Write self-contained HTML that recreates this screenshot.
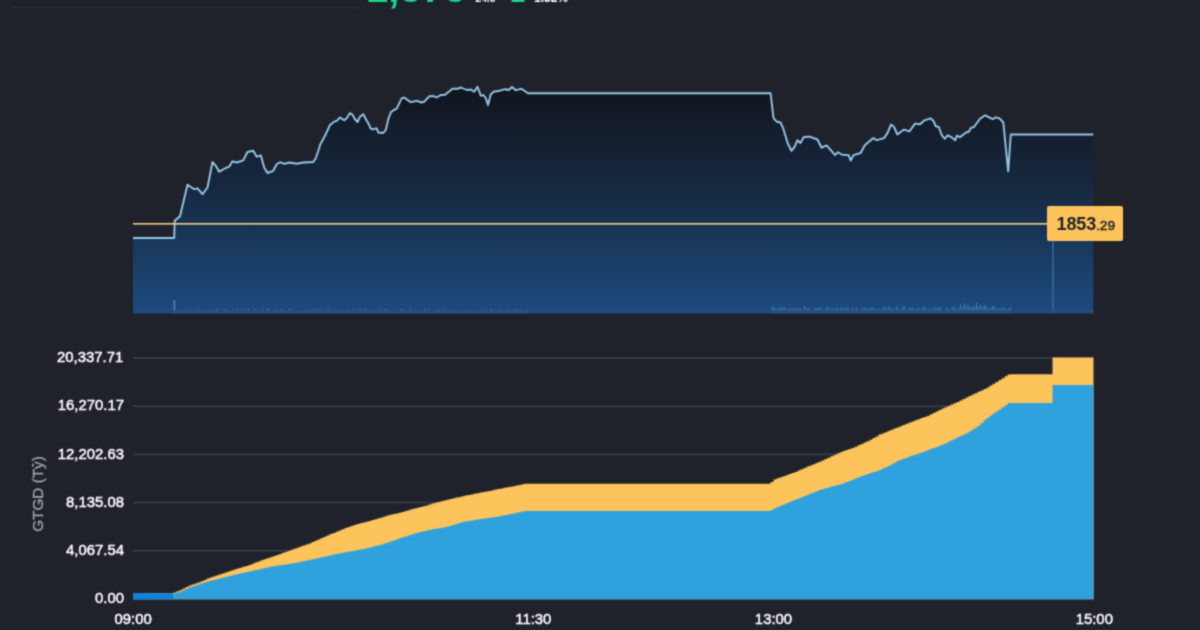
<!DOCTYPE html>
<html lang="vi">
<head>
<meta charset="utf-8">
<title>VNINDEX</title>
<style>
html,body{margin:0;padding:0;}
body{width:1200px;height:630px;overflow:hidden;background:#1f222b;font-family:"Liberation Sans",Arial,sans-serif;position:relative;}
#wrap{position:absolute;left:0;top:0;width:1200px;height:630px;overflow:hidden;background:#1f222b;filter:url(#soft);}
svg{position:absolute;left:0;top:0;display:block;}
.hdr{position:absolute;white-space:nowrap;line-height:1;}
#idx{left:366px;top:-32px;font-size:40px;font-weight:bold;color:#12dc88;}
#chg{left:475.5px;top:-6.2px;font-size:10.2px;font-weight:bold;color:#fff;}
#pct{left:534px;top:-8.4px;font-size:12px;font-weight:bold;color:#fff;}
#tri{left:510.5px;top:-9.6px;width:0;height:0;border-left:7.2px solid transparent;border-right:7.2px solid transparent;border-bottom:12px solid #12dc88;}
#hline{position:absolute;left:12px;top:6.6px;width:345.5px;height:1.6px;background:#30333c;}
.yl{position:absolute;right:1077.3px;font-size:14.9px;color:#fff;-webkit-text-stroke:0.45px #fff;line-height:16px;height:16px;white-space:nowrap;text-align:right;}
.xl{position:absolute;top:611.2px;width:80px;margin-left:-40px;text-align:center;font-size:14.9px;color:#fff;-webkit-text-stroke:0.45px #fff;line-height:16px;white-space:nowrap;}
#ytitle{position:absolute;left:-12.5px;top:485px;width:100px;height:18px;line-height:18px;text-align:center;font-size:15.3px;color:#a2a5aa;-webkit-text-stroke:0.3px #a2a5aa;transform:rotate(-90deg);transform-origin:50% 50%;white-space:nowrap;}
#tag{position:absolute;left:1047px;top:206px;width:76px;height:35px;background:#fdc45c;border-radius:2px;box-sizing:border-box;color:#1e2129;white-space:nowrap;line-height:36.4px;padding-left:9.6px;}
#tag b{font-size:18px;font-weight:bold;letter-spacing:-0.15px;}
#tag span{font-size:13.7px;-webkit-text-stroke:0.45px #1e2129;}
</style>
</head>
<body>
<div id="wrap">
<svg width="1200" height="630" viewBox="0 0 1200 630">
<defs>
<filter id="soft" x="0" y="0" width="100%" height="100%" color-interpolation-filters="sRGB"><feConvolveMatrix order="3" kernelMatrix="0.04 0.12 0.04 0.12 0.36 0.12 0.04 0.12 0.04" edgeMode="duplicate" preserveAlpha="true"/></filter>
<linearGradient id="pg" x1="0" y1="85" x2="0" y2="313.3" gradientUnits="userSpaceOnUse">
<stop offset="0" stop-color="#10141b"/>
<stop offset="0.223" stop-color="#141f2f"/>
<stop offset="0.417" stop-color="#16273d"/>
<stop offset="0.548" stop-color="#172f4c"/>
<stop offset="0.68" stop-color="#19375a"/>
<stop offset="0.81" stop-color="#1a4069"/>
<stop offset="1" stop-color="#1c4b7e"/>
</linearGradient>
</defs>
<path d="M133.0,313.3 L133.0,238.0 L174.2,238.0 L174.7,220.8 L180.0,216.3 L187.5,184.7 L194.2,189.2 L197.5,188.3 L202.5,194.2 L207.5,187.5 L212.5,162.0 L215.8,165.8 L219.2,171.7 L225.8,168.0 L229.2,166.7 L232.5,161.3 L236.7,162.5 L243.3,160.3 L247.5,152.0 L253.3,150.8 L256.7,156.7 L260.8,155.3 L264.2,167.5 L267.5,173.0 L273.3,170.8 L276.7,164.2 L280.0,162.2 L284.2,163.8 L289.2,162.5 L296.7,163.8 L303.3,162.5 L313.3,162.0 L315.8,158.3 L319.2,148.3 L320.0,145.0 L325.8,134.2 L330.0,125.0 L334.2,121.7 L336.7,120.8 L340.0,117.5 L344.2,120.3 L346.7,118.3 L350.0,113.0 L352.5,114.7 L355.0,119.2 L357.5,122.0 L360.0,116.7 L363.3,114.2 L365.8,119.2 L368.3,123.3 L370.8,128.7 L373.3,129.2 L376.7,128.3 L378.3,132.5 L383.3,133.0 L385.8,130.0 L388.3,119.2 L390.8,112.5 L393.3,110.3 L396.7,108.7 L399.2,103.3 L401.7,98.3 L404.2,97.5 L407.5,100.0 L410.8,102.2 L416.7,100.8 L421.7,102.5 L424.2,101.7 L429.2,96.3 L434.2,96.3 L436.7,97.5 L440.8,95.0 L445.0,94.7 L452.5,88.8 L457.5,88.8 L460.8,87.5 L466.7,90.0 L470.8,89.5 L474.2,91.7 L477.5,86.7 L480.8,95.8 L483.3,95.0 L485.8,98.3 L488.0,105.0 L490.0,97.5 L490.8,94.2 L494.2,91.5 L500.0,90.7 L505.0,89.2 L508.8,90.0 L512.0,87.0 L515.8,90.2 L521.3,88.8 L528.0,93.3 L770.6,93.3 L773.5,118.2 L777.0,121.8 L780.5,122.5 L783.4,128.9 L787.6,143.0 L791.4,150.8 L794.7,146.6 L797.5,140.2 L800.4,143.0 L803.9,137.0 L809.6,136.7 L817.4,139.5 L821.6,147.7 L826.6,145.4 L830.8,150.1 L835.1,155.1 L837.9,152.2 L842.2,154.8 L848.5,155.1 L850.7,160.5 L853.5,155.1 L860.6,153.0 L864.8,145.2 L873.3,138.1 L876.9,140.2 L884.0,138.1 L887.5,133.1 L891.0,124.6 L893.9,126.7 L897.4,134.5 L903.8,129.6 L909.5,131.3 L915.1,123.6 L920.1,124.2 L924.5,120.3 L930.5,118.3 L933.5,121.0 L935.8,126.3 L938.8,127.0 L941.8,135.3 L944.8,138.7 L947.8,135.3 L950.8,136.8 L955.3,140.2 L956.8,135.7 L959.8,137.2 L966.5,132.3 L968.8,131.8 L971.0,127.8 L974.0,127.0 L980.0,118.8 L985.3,115.3 L989.0,117.3 L992.8,119.2 L995.8,117.3 L999.5,118.3 L1003.3,122.5 L1004.8,137.5 L1008.2,171.3 L1010.8,134.5 L1093.3,134.5 L1093.3,313.3 Z" fill="url(#pg)"/>
<g fill="#5b8dc6" opacity="0.75"><rect x="174.0" y="310.8" width="1" height="2.5"/><rect x="176.0" y="309.8" width="1" height="3.5"/><rect x="178.0" y="309.8" width="1" height="3.5"/><rect x="180.0" y="310.8" width="1" height="2.5"/><rect x="182.0" y="310.3" width="1" height="3.0"/><rect x="184.0" y="309.8" width="1" height="3.5"/><rect x="186.0" y="310.3" width="1" height="3.0"/><rect x="188.0" y="309.3" width="1" height="4.0"/><rect x="190.0" y="309.8" width="1" height="3.5"/><rect x="192.0" y="311.3" width="1" height="2.0"/><rect x="194.0" y="309.8" width="1" height="3.5"/><rect x="196.0" y="311.3" width="1" height="2.0"/><rect x="198.0" y="308.8" width="1" height="4.5"/><rect x="200.0" y="310.3" width="1" height="3.0"/><rect x="202.0" y="310.3" width="1" height="3.0"/><rect x="204.0" y="309.8" width="1" height="3.5"/><rect x="206.0" y="310.8" width="1" height="2.5"/><rect x="208.0" y="310.8" width="1" height="2.5"/><rect x="210.0" y="309.3" width="1" height="4.0"/><rect x="212.0" y="310.3" width="1" height="3.0"/><rect x="214.0" y="309.8" width="1" height="3.5"/><rect x="216.0" y="308.8" width="1" height="4.5"/><rect x="218.0" y="309.8" width="1" height="3.5"/><rect x="220.0" y="310.3" width="1" height="3.0"/><rect x="222.0" y="310.3" width="1" height="3.0"/><rect x="224.0" y="309.3" width="1" height="4.0"/><rect x="226.0" y="308.8" width="1" height="4.5"/><rect x="228.0" y="310.8" width="1" height="2.5"/><rect x="230.0" y="310.8" width="1" height="2.5"/><rect x="232.0" y="309.3" width="1" height="4.0"/><rect x="234.0" y="310.8" width="1" height="2.5"/><rect x="236.0" y="308.8" width="1" height="4.5"/><rect x="238.0" y="309.8" width="1" height="3.5"/><rect x="240.0" y="310.3" width="1" height="3.0"/><rect x="242.0" y="309.3" width="1" height="4.0"/><rect x="244.0" y="311.3" width="1" height="2.0"/><rect x="246.0" y="309.3" width="1" height="4.0"/><rect x="248.0" y="308.8" width="1" height="4.5"/><rect x="250.0" y="311.3" width="1" height="2.0"/><rect x="252.0" y="310.8" width="1" height="2.5"/><rect x="254.0" y="308.8" width="1" height="4.5"/><rect x="256.0" y="309.8" width="1" height="3.5"/><rect x="258.0" y="311.3" width="1" height="2.0"/><rect x="260.0" y="310.3" width="1" height="3.0"/><rect x="262.0" y="308.8" width="1" height="4.5"/><rect x="264.0" y="311.3" width="1" height="2.0"/><rect x="266.0" y="308.8" width="1" height="4.5"/><rect x="268.0" y="308.8" width="1" height="4.5"/><rect x="270.0" y="310.3" width="1" height="3.0"/><rect x="272.0" y="310.3" width="1" height="3.0"/><rect x="274.0" y="309.8" width="1" height="3.5"/><rect x="276.0" y="309.3" width="1" height="4.0"/><rect x="278.0" y="310.3" width="1" height="3.0"/><rect x="280.0" y="309.3" width="1" height="4.0"/><rect x="282.0" y="308.8" width="1" height="4.5"/><rect x="284.0" y="310.3" width="1" height="3.0"/><rect x="286.0" y="310.3" width="1" height="3.0"/><rect x="288.0" y="309.3" width="1" height="4.0"/><rect x="290.0" y="308.8" width="1" height="4.5"/><rect x="292.0" y="309.8" width="1" height="3.5"/><rect x="294.0" y="310.3" width="1" height="3.0"/><rect x="296.0" y="310.8" width="1" height="2.5"/><rect x="298.0" y="310.3" width="1" height="3.0"/><rect x="300.0" y="311.3" width="1" height="2.0"/><rect x="302.0" y="311.3" width="1" height="2.0"/><rect x="304.0" y="310.8" width="1" height="2.5"/><rect x="306.0" y="310.3" width="1" height="3.0"/><rect x="308.0" y="310.8" width="1" height="2.5"/><rect x="310.0" y="310.3" width="1" height="3.0"/><rect x="312.0" y="309.3" width="1" height="4.0"/><rect x="314.0" y="310.3" width="1" height="3.0"/><rect x="316.0" y="308.8" width="1" height="4.5"/><rect x="318.0" y="309.3" width="1" height="4.0"/><rect x="320.0" y="308.8" width="1" height="4.5"/><rect x="322.0" y="310.3" width="1" height="3.0"/><rect x="324.0" y="310.3" width="1" height="3.0"/><rect x="326.0" y="309.8" width="1" height="3.5"/><rect x="328.0" y="308.8" width="1" height="4.5"/><rect x="330.0" y="310.3" width="1" height="3.0"/><rect x="332.0" y="309.8" width="1" height="3.5"/><rect x="334.0" y="310.3" width="1" height="3.0"/><rect x="336.0" y="309.8" width="1" height="3.5"/><rect x="338.0" y="309.8" width="1" height="3.5"/><rect x="340.0" y="310.3" width="1" height="3.0"/><rect x="342.0" y="309.8" width="1" height="3.5"/><rect x="344.0" y="310.8" width="1" height="2.5"/><rect x="346.0" y="310.3" width="1" height="3.0"/><rect x="348.0" y="309.3" width="1" height="4.0"/><rect x="350.0" y="311.3" width="1" height="2.0"/><rect x="352.0" y="308.8" width="1" height="4.5"/><rect x="354.0" y="310.3" width="1" height="3.0"/><rect x="356.0" y="309.8" width="1" height="3.5"/><rect x="358.0" y="309.3" width="1" height="4.0"/><rect x="360.0" y="309.3" width="1" height="4.0"/><rect x="362.0" y="310.8" width="1" height="2.5"/><rect x="364.0" y="309.3" width="1" height="4.0"/><rect x="366.0" y="308.8" width="1" height="4.5"/><rect x="368.0" y="310.3" width="1" height="3.0"/><rect x="370.0" y="309.8" width="1" height="3.5"/><rect x="372.0" y="309.8" width="1" height="3.5"/><rect x="374.0" y="309.8" width="1" height="3.5"/><rect x="376.0" y="311.3" width="1" height="2.0"/><rect x="378.0" y="309.3" width="1" height="4.0"/><rect x="380.0" y="309.3" width="1" height="4.0"/><rect x="382.0" y="310.8" width="1" height="2.5"/><rect x="384.0" y="309.3" width="1" height="4.0"/><rect x="386.0" y="308.8" width="1" height="4.5"/><rect x="388.0" y="309.8" width="1" height="3.5"/><rect x="390.0" y="310.3" width="1" height="3.0"/><rect x="392.0" y="310.3" width="1" height="3.0"/><rect x="394.0" y="311.3" width="1" height="2.0"/><rect x="396.0" y="311.3" width="1" height="2.0"/><rect x="398.0" y="310.3" width="1" height="3.0"/><rect x="400.0" y="308.8" width="1" height="4.5"/><rect x="402.0" y="309.3" width="1" height="4.0"/><rect x="404.0" y="310.3" width="1" height="3.0"/><rect x="406.0" y="311.3" width="1" height="2.0"/><rect x="408.0" y="310.3" width="1" height="3.0"/><rect x="410.0" y="308.8" width="1" height="4.5"/><rect x="412.0" y="311.3" width="1" height="2.0"/><rect x="414.0" y="310.3" width="1" height="3.0"/><rect x="416.0" y="310.8" width="1" height="2.5"/><rect x="418.0" y="311.3" width="1" height="2.0"/><rect x="420.0" y="310.3" width="1" height="3.0"/><rect x="422.0" y="310.3" width="1" height="3.0"/><rect x="424.0" y="308.8" width="1" height="4.5"/><rect x="426.0" y="310.3" width="1" height="3.0"/><rect x="428.0" y="308.8" width="1" height="4.5"/><rect x="430.0" y="311.3" width="1" height="2.0"/><rect x="432.0" y="311.3" width="1" height="2.0"/><rect x="434.0" y="309.8" width="1" height="3.5"/><rect x="436.0" y="309.8" width="1" height="3.5"/><rect x="438.0" y="308.8" width="1" height="4.5"/><rect x="440.0" y="311.3" width="1" height="2.0"/><rect x="442.0" y="310.3" width="1" height="3.0"/><rect x="444.0" y="309.3" width="1" height="4.0"/><rect x="446.0" y="309.8" width="1" height="3.5"/><rect x="448.0" y="310.3" width="1" height="3.0"/><rect x="450.0" y="309.8" width="1" height="3.5"/><rect x="452.0" y="310.3" width="1" height="3.0"/><rect x="454.0" y="309.8" width="1" height="3.5"/><rect x="456.0" y="310.8" width="1" height="2.5"/><rect x="458.0" y="311.3" width="1" height="2.0"/><rect x="460.0" y="310.3" width="1" height="3.0"/><rect x="462.0" y="311.3" width="1" height="2.0"/><rect x="464.0" y="311.3" width="1" height="2.0"/><rect x="466.0" y="311.3" width="1" height="2.0"/><rect x="468.0" y="309.8" width="1" height="3.5"/><rect x="470.0" y="309.8" width="1" height="3.5"/><rect x="472.0" y="311.3" width="1" height="2.0"/><rect x="474.0" y="310.8" width="1" height="2.5"/><rect x="476.0" y="310.3" width="1" height="3.0"/><rect x="478.0" y="310.3" width="1" height="3.0"/><rect x="480.0" y="309.8" width="1" height="3.5"/><rect x="482.0" y="310.3" width="1" height="3.0"/><rect x="484.0" y="310.8" width="1" height="2.5"/><rect x="486.0" y="309.3" width="1" height="4.0"/><rect x="488.0" y="311.3" width="1" height="2.0"/><rect x="490.0" y="308.8" width="1" height="4.5"/><rect x="492.0" y="310.3" width="1" height="3.0"/><rect x="494.0" y="310.3" width="1" height="3.0"/><rect x="496.0" y="310.3" width="1" height="3.0"/><rect x="498.0" y="310.8" width="1" height="2.5"/><rect x="500.0" y="308.8" width="1" height="4.5"/><rect x="502.0" y="310.3" width="1" height="3.0"/><rect x="504.0" y="310.3" width="1" height="3.0"/><rect x="506.0" y="310.3" width="1" height="3.0"/><rect x="508.0" y="308.8" width="1" height="4.5"/><rect x="510.0" y="309.8" width="1" height="3.5"/><rect x="512.0" y="310.3" width="1" height="3.0"/><rect x="514.0" y="309.3" width="1" height="4.0"/><rect x="516.0" y="308.8" width="1" height="4.5"/><rect x="518.0" y="309.8" width="1" height="3.5"/><rect x="520.0" y="309.3" width="1" height="4.0"/><rect x="522.0" y="309.8" width="1" height="3.5"/><rect x="524.0" y="311.3" width="1" height="2.0"/><rect x="526.0" y="309.8" width="1" height="3.5"/><rect x="772.0" y="306.3" width="1" height="7.0"/><rect x="774.0" y="307.8" width="1" height="5.5"/><rect x="776.0" y="308.8" width="1" height="4.5"/><rect x="778.0" y="308.3" width="1" height="5.0"/><rect x="780.0" y="307.3" width="1" height="6.0"/><rect x="782.0" y="307.3" width="1" height="6.0"/><rect x="784.0" y="307.3" width="1" height="6.0"/><rect x="786.0" y="309.3" width="1" height="4.0"/><rect x="788.0" y="308.8" width="1" height="4.5"/><rect x="790.0" y="308.3" width="1" height="5.0"/><rect x="792.0" y="308.8" width="1" height="4.5"/><rect x="794.0" y="307.8" width="1" height="5.5"/><rect x="796.0" y="308.8" width="1" height="4.5"/><rect x="798.0" y="307.8" width="1" height="5.5"/><rect x="800.0" y="308.8" width="1" height="4.5"/><rect x="802.0" y="310.3" width="1" height="3.0"/><rect x="804.0" y="306.3" width="1" height="7.0"/><rect x="806.0" y="308.3" width="1" height="5.0"/><rect x="808.0" y="307.8" width="1" height="5.5"/><rect x="810.0" y="308.8" width="1" height="4.5"/><rect x="812.0" y="310.3" width="1" height="3.0"/><rect x="814.0" y="308.3" width="1" height="5.0"/><rect x="816.0" y="307.8" width="1" height="5.5"/><rect x="818.0" y="307.8" width="1" height="5.5"/><rect x="820.0" y="307.3" width="1" height="6.0"/><rect x="822.0" y="309.3" width="1" height="4.0"/><rect x="824.0" y="310.3" width="1" height="3.0"/><rect x="826.0" y="307.3" width="1" height="6.0"/><rect x="828.0" y="307.3" width="1" height="6.0"/><rect x="830.0" y="308.8" width="1" height="4.5"/><rect x="832.0" y="308.3" width="1" height="5.0"/><rect x="834.0" y="308.8" width="1" height="4.5"/><rect x="836.0" y="307.3" width="1" height="6.0"/><rect x="838.0" y="308.8" width="1" height="4.5"/><rect x="840.0" y="307.8" width="1" height="5.5"/><rect x="842.0" y="307.3" width="1" height="6.0"/><rect x="844.0" y="308.8" width="1" height="4.5"/><rect x="846.0" y="307.3" width="1" height="6.0"/><rect x="848.0" y="308.3" width="1" height="5.0"/><rect x="850.0" y="310.3" width="1" height="3.0"/><rect x="852.0" y="307.8" width="1" height="5.5"/><rect x="854.0" y="310.3" width="1" height="3.0"/><rect x="856.0" y="307.3" width="1" height="6.0"/><rect x="858.0" y="310.3" width="1" height="3.0"/><rect x="860.0" y="308.8" width="1" height="4.5"/><rect x="862.0" y="308.8" width="1" height="4.5"/><rect x="864.0" y="307.3" width="1" height="6.0"/><rect x="866.0" y="308.3" width="1" height="5.0"/><rect x="868.0" y="308.8" width="1" height="4.5"/><rect x="870.0" y="307.8" width="1" height="5.5"/><rect x="872.0" y="307.8" width="1" height="5.5"/><rect x="874.0" y="308.8" width="1" height="4.5"/><rect x="876.0" y="309.3" width="1" height="4.0"/><rect x="878.0" y="308.8" width="1" height="4.5"/><rect x="880.0" y="309.3" width="1" height="4.0"/><rect x="882.0" y="308.8" width="1" height="4.5"/><rect x="884.0" y="306.3" width="1" height="7.0"/><rect x="886.0" y="308.8" width="1" height="4.5"/><rect x="888.0" y="306.3" width="1" height="7.0"/><rect x="890.0" y="307.8" width="1" height="5.5"/><rect x="892.0" y="308.8" width="1" height="4.5"/><rect x="894.0" y="308.8" width="1" height="4.5"/><rect x="896.0" y="306.3" width="1" height="7.0"/><rect x="898.0" y="308.3" width="1" height="5.0"/><rect x="900.0" y="310.3" width="1" height="3.0"/><rect x="902.0" y="306.3" width="1" height="7.0"/><rect x="904.0" y="306.3" width="1" height="7.0"/><rect x="906.0" y="310.3" width="1" height="3.0"/><rect x="908.0" y="307.8" width="1" height="5.5"/><rect x="910.0" y="307.3" width="1" height="6.0"/><rect x="912.0" y="307.3" width="1" height="6.0"/><rect x="914.0" y="309.3" width="1" height="4.0"/><rect x="916.0" y="308.8" width="1" height="4.5"/><rect x="918.0" y="307.8" width="1" height="5.5"/><rect x="920.0" y="309.3" width="1" height="4.0"/><rect x="922.0" y="307.3" width="1" height="6.0"/><rect x="924.0" y="306.3" width="1" height="7.0"/><rect x="926.0" y="308.8" width="1" height="4.5"/><rect x="928.0" y="309.3" width="1" height="4.0"/><rect x="930.0" y="308.8" width="1" height="4.5"/><rect x="932.0" y="309.3" width="1" height="4.0"/><rect x="934.0" y="307.3" width="1" height="6.0"/><rect x="936.0" y="308.3" width="1" height="5.0"/><rect x="938.0" y="307.3" width="1" height="6.0"/><rect x="940.0" y="307.3" width="1" height="6.0"/><rect x="942.0" y="310.3" width="1" height="3.0"/><rect x="944.0" y="310.3" width="1" height="3.0"/><rect x="946.0" y="307.8" width="1" height="5.5"/><rect x="948.0" y="308.8" width="1" height="4.5"/><rect x="950.0" y="308.8" width="1" height="4.5"/><rect x="952.0" y="307.3" width="1" height="6.0"/><rect x="954.0" y="306.3" width="1" height="7.0"/><rect x="956.0" y="309.3" width="1" height="4.0"/><rect x="958.0" y="308.3" width="1" height="5.0"/><rect x="960.0" y="304.3" width="1" height="9.0"/><rect x="962.0" y="307.3" width="1" height="6.0"/><rect x="964.0" y="303.3" width="1" height="10.0"/><rect x="966.0" y="305.3" width="1" height="8.0"/><rect x="968.0" y="305.3" width="1" height="8.0"/><rect x="970.0" y="307.3" width="1" height="6.0"/><rect x="972.0" y="306.3" width="1" height="7.0"/><rect x="974.0" y="306.3" width="1" height="7.0"/><rect x="976.0" y="302.3" width="1" height="11.0"/><rect x="978.0" y="306.3" width="1" height="7.0"/><rect x="980.0" y="304.8" width="1" height="8.5"/><rect x="982.0" y="306.3" width="1" height="7.0"/><rect x="984.0" y="304.8" width="1" height="8.5"/><rect x="986.0" y="306.3" width="1" height="7.0"/><rect x="988.0" y="308.8" width="1" height="4.5"/><rect x="990.0" y="307.8" width="1" height="5.5"/><rect x="992.0" y="306.3" width="1" height="7.0"/><rect x="994.0" y="306.3" width="1" height="7.0"/><rect x="996.0" y="308.8" width="1" height="4.5"/><rect x="998.0" y="308.3" width="1" height="5.0"/><rect x="1000.0" y="308.8" width="1" height="4.5"/><rect x="1002.0" y="307.3" width="1" height="6.0"/><rect x="1004.0" y="308.3" width="1" height="5.0"/><rect x="1006.0" y="308.8" width="1" height="4.5"/><rect x="1008.0" y="308.3" width="1" height="5.0"/><rect x="1010.0" y="307.8" width="1" height="5.5"/></g>
<rect x="173.6" y="300" width="1.6" height="13.3" fill="#5482b4"/>
<rect x="1052.2" y="241" width="1.6" height="72.3" fill="#38679b"/>
<rect x="133" y="310" width="960.5" height="2" fill="#1a4c86" opacity="0.8"/><rect x="133" y="312" width="960.5" height="1.3" fill="#2c4c74" opacity="0.8"/>
<polyline points="133.0,238.0 174.2,238.0 174.7,220.8 180.0,216.3 187.5,184.7 194.2,189.2 197.5,188.3 202.5,194.2 207.5,187.5 212.5,162.0 215.8,165.8 219.2,171.7 225.8,168.0 229.2,166.7 232.5,161.3 236.7,162.5 243.3,160.3 247.5,152.0 253.3,150.8 256.7,156.7 260.8,155.3 264.2,167.5 267.5,173.0 273.3,170.8 276.7,164.2 280.0,162.2 284.2,163.8 289.2,162.5 296.7,163.8 303.3,162.5 313.3,162.0 315.8,158.3 319.2,148.3 320.0,145.0 325.8,134.2 330.0,125.0 334.2,121.7 336.7,120.8 340.0,117.5 344.2,120.3 346.7,118.3 350.0,113.0 352.5,114.7 355.0,119.2 357.5,122.0 360.0,116.7 363.3,114.2 365.8,119.2 368.3,123.3 370.8,128.7 373.3,129.2 376.7,128.3 378.3,132.5 383.3,133.0 385.8,130.0 388.3,119.2 390.8,112.5 393.3,110.3 396.7,108.7 399.2,103.3 401.7,98.3 404.2,97.5 407.5,100.0 410.8,102.2 416.7,100.8 421.7,102.5 424.2,101.7 429.2,96.3 434.2,96.3 436.7,97.5 440.8,95.0 445.0,94.7 452.5,88.8 457.5,88.8 460.8,87.5 466.7,90.0 470.8,89.5 474.2,91.7 477.5,86.7 480.8,95.8 483.3,95.0 485.8,98.3 488.0,105.0 490.0,97.5 490.8,94.2 494.2,91.5 500.0,90.7 505.0,89.2 508.8,90.0 512.0,87.0 515.8,90.2 521.3,88.8 528.0,93.3 770.6,93.3 773.5,118.2 777.0,121.8 780.5,122.5 783.4,128.9 787.6,143.0 791.4,150.8 794.7,146.6 797.5,140.2 800.4,143.0 803.9,137.0 809.6,136.7 817.4,139.5 821.6,147.7 826.6,145.4 830.8,150.1 835.1,155.1 837.9,152.2 842.2,154.8 848.5,155.1 850.7,160.5 853.5,155.1 860.6,153.0 864.8,145.2 873.3,138.1 876.9,140.2 884.0,138.1 887.5,133.1 891.0,124.6 893.9,126.7 897.4,134.5 903.8,129.6 909.5,131.3 915.1,123.6 920.1,124.2 924.5,120.3 930.5,118.3 933.5,121.0 935.8,126.3 938.8,127.0 941.8,135.3 944.8,138.7 947.8,135.3 950.8,136.8 955.3,140.2 956.8,135.7 959.8,137.2 966.5,132.3 968.8,131.8 971.0,127.8 974.0,127.0 980.0,118.8 985.3,115.3 989.0,117.3 992.8,119.2 995.8,117.3 999.5,118.3 1003.3,122.5 1004.8,137.5 1008.2,171.3 1010.8,134.5 1093.3,134.5" fill="none" stroke="#95c7e8" stroke-width="1.9" stroke-linejoin="round" stroke-linecap="butt"/>
<rect x="133" y="223" width="915" height="1.6" fill="#f3cd84"/>
<g fill="#3b3e48">
<rect x="133" y="357.2" width="960.5" height="1.6"/><rect x="133" y="405.4" width="960.5" height="1.6"/><rect x="133" y="453.6" width="960.5" height="1.6"/><rect x="133" y="501.8" width="960.5" height="1.6"/><rect x="133" y="550.0" width="960.5" height="1.6"/>
</g>
<path d="M133.0,599.3 L133.0,593.4 L173.5,593.2 L173.5,592.6 L176.5,592.6 L176.5,591.3 L179.5,591.3 L179.5,590.0 L182.5,590.0 L182.5,588.5 L185.5,588.5 L185.5,587.0 L188.5,587.0 L188.5,585.5 L191.5,585.5 L191.5,584.5 L194.5,584.5 L194.5,583.4 L197.5,583.4 L197.5,582.4 L200.5,582.4 L200.5,581.2 L203.5,581.2 L203.5,579.9 L206.5,579.9 L206.5,578.6 L209.5,578.6 L209.5,577.5 L212.5,577.5 L212.5,576.5 L215.5,576.5 L215.5,575.5 L218.5,575.5 L218.5,574.5 L221.5,574.5 L221.5,573.5 L224.5,573.5 L224.5,572.4 L227.5,572.4 L227.5,571.4 L230.5,571.4 L230.5,570.4 L233.5,570.4 L233.5,569.5 L236.5,569.5 L236.5,568.6 L239.5,568.6 L239.5,567.7 L242.5,567.7 L242.5,566.8 L245.5,566.8 L245.5,565.9 L248.5,565.9 L248.5,565.0 L251.5,565.0 L251.5,563.8 L254.5,563.8 L254.5,562.6 L257.5,562.6 L257.5,561.4 L260.5,561.4 L260.5,560.3 L263.5,560.3 L263.5,559.2 L266.5,559.2 L266.5,558.2 L269.5,558.2 L269.5,557.2 L272.5,557.2 L272.5,556.2 L275.5,556.2 L275.5,555.2 L278.5,555.2 L278.5,554.2 L281.5,554.2 L281.5,553.1 L284.5,553.1 L284.5,552.0 L287.5,552.0 L287.5,550.9 L290.5,550.9 L290.5,549.8 L293.5,549.8 L293.5,548.8 L296.5,548.8 L296.5,547.7 L299.5,547.7 L299.5,546.6 L302.5,546.6 L302.5,545.6 L305.5,545.6 L305.5,544.5 L308.5,544.5 L308.5,543.5 L311.5,543.5 L311.5,542.1 L314.5,542.1 L314.5,540.8 L317.5,540.8 L317.5,539.5 L320.5,539.5 L320.5,538.1 L323.5,538.1 L323.5,536.8 L326.5,536.8 L326.5,535.4 L329.5,535.4 L329.5,534.1 L332.5,534.1 L332.5,532.9 L335.5,532.9 L335.5,531.7 L338.5,531.7 L338.5,530.5 L341.5,530.5 L341.5,529.3 L344.5,529.3 L344.5,528.1 L347.5,528.1 L347.5,526.9 L350.5,526.9 L350.5,525.9 L353.5,525.9 L353.5,525.0 L356.5,525.0 L356.5,524.1 L359.5,524.1 L359.5,523.2 L362.5,523.2 L362.5,522.5 L365.5,522.5 L365.5,521.8 L368.5,521.8 L368.5,521.0 L371.5,521.0 L371.5,520.1 L374.5,520.1 L374.5,519.2 L377.5,519.2 L377.5,518.3 L380.5,518.3 L380.5,517.4 L383.5,517.4 L383.5,516.5 L386.5,516.5 L386.5,515.6 L389.5,515.6 L389.5,514.8 L392.5,514.8 L392.5,514.1 L395.5,514.1 L395.5,513.5 L398.5,513.5 L398.5,512.8 L401.5,512.8 L401.5,511.9 L404.5,511.9 L404.5,511.1 L407.5,511.1 L407.5,510.2 L410.5,510.2 L410.5,509.3 L413.5,509.3 L413.5,508.6 L416.5,508.6 L416.5,507.8 L419.5,507.8 L419.5,507.1 L422.5,507.1 L422.5,506.3 L425.5,506.3 L425.5,505.4 L428.5,505.4 L428.5,504.5 L431.5,504.5 L431.5,503.6 L434.5,503.6 L434.5,502.8 L437.5,502.8 L437.5,502.0 L440.5,502.0 L440.5,501.3 L443.5,501.3 L443.5,500.5 L446.5,500.5 L446.5,499.8 L449.5,499.8 L449.5,499.0 L452.5,499.0 L452.5,498.3 L455.5,498.3 L455.5,497.5 L458.5,497.5 L458.5,496.9 L461.5,496.9 L461.5,496.2 L464.5,496.2 L464.5,495.6 L467.5,495.6 L467.5,495.0 L470.5,495.0 L470.5,494.4 L473.5,494.4 L473.5,493.8 L476.5,493.8 L476.5,493.2 L479.5,493.2 L479.5,492.6 L482.5,492.6 L482.5,492.0 L485.5,492.0 L485.5,491.4 L488.5,491.4 L488.5,490.9 L491.5,490.9 L491.5,490.3 L494.5,490.3 L494.5,489.6 L497.5,489.6 L497.5,489.0 L500.5,489.0 L500.5,488.4 L503.5,488.4 L503.5,487.8 L506.5,487.8 L506.5,487.3 L509.5,487.3 L509.5,486.7 L512.5,486.7 L512.5,486.2 L515.5,486.2 L515.5,485.6 L518.5,485.6 L518.5,485.0 L521.5,485.0 L521.5,484.3 L524.5,484.3 L524.5,483.7 L527.5,483.7 L527.5,483.7 L530.5,483.7 L530.5,483.7 L533.5,483.7 L533.5,483.7 L536.5,483.7 L536.5,483.7 L539.5,483.7 L539.5,483.7 L542.5,483.7 L542.5,483.7 L545.5,483.7 L545.5,483.7 L548.5,483.7 L548.5,483.7 L551.5,483.7 L551.5,483.7 L554.5,483.7 L554.5,483.7 L557.5,483.7 L557.5,483.7 L560.5,483.7 L560.5,483.7 L563.5,483.7 L563.5,483.7 L566.5,483.7 L566.5,483.7 L569.5,483.7 L569.5,483.7 L572.5,483.7 L572.5,483.7 L575.5,483.7 L575.5,483.7 L578.5,483.7 L578.5,483.7 L581.5,483.7 L581.5,483.7 L584.5,483.7 L584.5,483.7 L587.5,483.7 L587.5,483.7 L590.5,483.7 L590.5,483.7 L593.5,483.7 L593.5,483.7 L596.5,483.7 L596.5,483.7 L599.5,483.7 L599.5,483.7 L602.5,483.7 L602.5,483.7 L605.5,483.7 L605.5,483.7 L608.5,483.7 L608.5,483.7 L611.5,483.7 L611.5,483.7 L614.5,483.7 L614.5,483.7 L617.5,483.7 L617.5,483.7 L620.5,483.7 L620.5,483.7 L623.5,483.7 L623.5,483.7 L626.5,483.7 L626.5,483.7 L629.5,483.7 L629.5,483.7 L632.5,483.7 L632.5,483.7 L635.5,483.7 L635.5,483.7 L638.5,483.7 L638.5,483.7 L641.5,483.7 L641.5,483.7 L644.5,483.7 L644.5,483.7 L647.5,483.7 L647.5,483.7 L650.5,483.7 L650.5,483.7 L653.5,483.7 L653.5,483.7 L656.5,483.7 L656.5,483.7 L659.5,483.7 L659.5,483.7 L662.5,483.7 L662.5,483.7 L665.5,483.7 L665.5,483.7 L668.5,483.7 L668.5,483.7 L671.5,483.7 L671.5,483.7 L674.5,483.7 L674.5,483.7 L677.5,483.7 L677.5,483.7 L680.5,483.7 L680.5,483.7 L683.5,483.7 L683.5,483.7 L686.5,483.7 L686.5,483.7 L689.5,483.7 L689.5,483.7 L692.5,483.7 L692.5,483.7 L695.5,483.7 L695.5,483.7 L698.5,483.7 L698.5,483.7 L701.5,483.7 L701.5,483.7 L704.5,483.7 L704.5,483.7 L707.5,483.7 L707.5,483.7 L710.5,483.7 L710.5,483.7 L713.5,483.7 L713.5,483.7 L716.5,483.7 L716.5,483.7 L719.5,483.7 L719.5,483.7 L722.5,483.7 L722.5,483.7 L725.5,483.7 L725.5,483.7 L728.5,483.7 L728.5,483.7 L731.5,483.7 L731.5,483.7 L734.5,483.7 L734.5,483.7 L737.5,483.7 L737.5,483.7 L740.5,483.7 L740.5,483.7 L743.5,483.7 L743.5,483.7 L746.5,483.7 L746.5,483.7 L749.5,483.7 L749.5,483.7 L752.5,483.7 L752.5,483.7 L755.5,483.7 L755.5,483.7 L758.5,483.7 L758.5,483.7 L761.5,483.7 L761.5,483.7 L764.5,483.7 L764.5,483.7 L767.5,483.7 L767.5,483.7 L770.5,483.7 L770.5,482.0 L773.5,482.0 L773.5,479.5 L776.5,479.5 L776.5,478.3 L779.5,478.3 L779.5,477.3 L782.5,477.3 L782.5,476.2 L785.5,476.2 L785.5,475.2 L788.5,475.2 L788.5,474.1 L791.5,474.1 L791.5,473.1 L794.5,473.1 L794.5,471.9 L797.5,471.9 L797.5,470.6 L800.5,470.6 L800.5,469.2 L803.5,469.2 L803.5,467.9 L806.5,467.9 L806.5,466.6 L809.5,466.6 L809.5,465.4 L812.5,465.4 L812.5,464.2 L815.5,464.2 L815.5,463.0 L818.5,463.0 L818.5,461.7 L821.5,461.7 L821.5,460.4 L824.5,460.4 L824.5,459.0 L827.5,459.0 L827.5,457.7 L830.5,457.7 L830.5,456.3 L833.5,456.3 L833.5,455.0 L836.5,455.0 L836.5,453.6 L839.5,453.6 L839.5,452.2 L842.5,452.2 L842.5,451.1 L845.5,451.1 L845.5,450.0 L848.5,450.0 L848.5,449.0 L851.5,449.0 L851.5,447.9 L854.5,447.9 L854.5,446.7 L857.5,446.7 L857.5,445.3 L860.5,445.3 L860.5,444.0 L863.5,444.0 L863.5,442.6 L866.5,442.6 L866.5,441.2 L869.5,441.2 L869.5,439.8 L872.5,439.8 L872.5,438.1 L875.5,438.1 L875.5,436.4 L878.5,436.4 L878.5,434.6 L881.5,434.6 L881.5,433.4 L884.5,433.4 L884.5,432.2 L887.5,432.2 L887.5,431.0 L890.5,431.0 L890.5,429.8 L893.5,429.8 L893.5,428.6 L896.5,428.6 L896.5,427.4 L899.5,427.4 L899.5,426.2 L902.5,426.2 L902.5,425.0 L905.5,425.0 L905.5,423.8 L908.5,423.8 L908.5,422.6 L911.5,422.6 L911.5,421.4 L914.5,421.4 L914.5,420.2 L917.5,420.2 L917.5,419.2 L920.5,419.2 L920.5,418.1 L923.5,418.1 L923.5,417.1 L926.5,417.1 L926.5,415.9 L929.5,415.9 L929.5,414.4 L932.5,414.4 L932.5,412.9 L935.5,412.9 L935.5,411.4 L938.5,411.4 L938.5,409.9 L941.5,409.9 L941.5,408.6 L944.5,408.6 L944.5,407.2 L947.5,407.2 L947.5,405.9 L950.5,405.9 L950.5,404.5 L953.5,404.5 L953.5,403.2 L956.5,403.2 L956.5,401.9 L959.5,401.9 L959.5,400.5 L962.5,400.5 L962.5,399.1 L965.5,399.1 L965.5,397.6 L968.5,397.6 L968.5,396.1 L971.5,396.1 L971.5,394.6 L974.5,394.6 L974.5,393.2 L977.5,393.2 L977.5,391.8 L980.5,391.8 L980.5,390.5 L983.5,390.5 L983.5,389.1 L986.5,389.1 L986.5,387.4 L989.5,387.4 L989.5,385.6 L992.5,385.6 L992.5,383.8 L995.5,383.8 L995.5,382.0 L998.5,382.0 L998.5,380.1 L1001.5,380.1 L1001.5,378.2 L1004.5,378.2 L1004.5,376.3 L1007.5,376.3 L1007.5,374.4 L1010.5,374.4 L1010.5,374.3 L1013.5,374.3 L1013.5,374.3 L1016.5,374.3 L1016.5,374.3 L1019.5,374.3 L1019.5,374.3 L1022.5,374.3 L1022.5,374.3 L1025.5,374.3 L1025.5,374.3 L1028.5,374.3 L1028.5,374.3 L1031.5,374.3 L1031.5,374.3 L1034.5,374.3 L1034.5,374.3 L1037.5,374.3 L1037.5,374.3 L1040.5,374.3 L1040.5,374.3 L1043.5,374.3 L1043.5,374.3 L1046.5,374.3 L1046.5,374.3 L1049.5,374.3 L1049.5,374.3 L1052.5,374.3 L1052.5,357.4 L1055.5,357.4 L1055.5,357.4 L1058.5,357.4 L1058.5,357.4 L1061.5,357.4 L1061.5,357.4 L1064.5,357.4 L1064.5,357.4 L1067.5,357.4 L1067.5,357.4 L1070.5,357.4 L1070.5,357.4 L1073.5,357.4 L1073.5,357.4 L1076.5,357.4 L1076.5,357.4 L1079.5,357.4 L1079.5,357.4 L1082.5,357.4 L1082.5,357.4 L1085.5,357.4 L1085.5,357.4 L1088.5,357.4 L1088.5,357.4 L1091.5,357.4 L1091.5,357.4 L1093.5,357.4 L1093.5,357.4 L1093.5,599.3 Z" fill="#fdc45c"/>
<path d="M133.0,599.3 L133.0,593.4 L173.5,594.0 L173.5,593.5 L176.5,593.5 L176.5,592.6 L179.5,592.6 L179.5,591.5 L182.5,591.5 L182.5,590.2 L185.5,590.2 L185.5,588.9 L188.5,588.9 L188.5,587.5 L191.5,587.5 L191.5,586.5 L194.5,586.5 L194.5,585.4 L197.5,585.4 L197.5,584.4 L200.5,584.4 L200.5,583.4 L203.5,583.4 L203.5,582.5 L206.5,582.5 L206.5,581.6 L209.5,581.6 L209.5,580.8 L212.5,580.8 L212.5,580.0 L215.5,580.0 L215.5,579.2 L218.5,579.2 L218.5,578.5 L221.5,578.5 L221.5,577.8 L224.5,577.8 L224.5,577.0 L227.5,577.0 L227.5,576.2 L230.5,576.2 L230.5,575.5 L233.5,575.5 L233.5,574.8 L236.5,574.8 L236.5,574.0 L239.5,574.0 L239.5,573.3 L242.5,573.3 L242.5,572.7 L245.5,572.7 L245.5,572.1 L248.5,572.1 L248.5,571.5 L251.5,571.5 L251.5,570.8 L254.5,570.8 L254.5,570.1 L257.5,570.1 L257.5,569.4 L260.5,569.4 L260.5,568.8 L263.5,568.8 L263.5,568.1 L266.5,568.1 L266.5,567.4 L269.5,567.4 L269.5,566.8 L272.5,566.8 L272.5,566.3 L275.5,566.3 L275.5,565.8 L278.5,565.8 L278.5,565.3 L281.5,565.3 L281.5,564.9 L284.5,564.9 L284.5,564.5 L287.5,564.5 L287.5,564.1 L290.5,564.1 L290.5,563.6 L293.5,563.6 L293.5,563.0 L296.5,563.0 L296.5,562.4 L299.5,562.4 L299.5,561.8 L302.5,561.8 L302.5,561.2 L305.5,561.2 L305.5,560.6 L308.5,560.6 L308.5,560.0 L311.5,560.0 L311.5,559.3 L314.5,559.3 L314.5,558.7 L317.5,558.7 L317.5,558.0 L320.5,558.0 L320.5,557.3 L323.5,557.3 L323.5,556.6 L326.5,556.6 L326.5,556.0 L329.5,556.0 L329.5,555.3 L332.5,555.3 L332.5,554.6 L335.5,554.6 L335.5,553.9 L338.5,553.9 L338.5,553.2 L341.5,553.2 L341.5,552.7 L344.5,552.7 L344.5,552.2 L347.5,552.2 L347.5,551.7 L350.5,551.7 L350.5,551.2 L353.5,551.2 L353.5,550.6 L356.5,550.6 L356.5,550.1 L359.5,550.1 L359.5,549.6 L362.5,549.6 L362.5,548.9 L365.5,548.9 L365.5,548.2 L368.5,548.2 L368.5,547.5 L371.5,547.5 L371.5,546.8 L374.5,546.8 L374.5,546.0 L377.5,546.0 L377.5,545.2 L380.5,545.2 L380.5,544.4 L383.5,544.4 L383.5,543.5 L386.5,543.5 L386.5,542.6 L389.5,542.6 L389.5,541.6 L392.5,541.6 L392.5,540.5 L395.5,540.5 L395.5,539.4 L398.5,539.4 L398.5,538.3 L401.5,538.3 L401.5,537.3 L404.5,537.3 L404.5,536.4 L407.5,536.4 L407.5,535.4 L410.5,535.4 L410.5,534.4 L413.5,534.4 L413.5,533.6 L416.5,533.6 L416.5,532.8 L419.5,532.8 L419.5,532.0 L422.5,532.0 L422.5,531.3 L425.5,531.3 L425.5,530.6 L428.5,530.6 L428.5,530.0 L431.5,530.0 L431.5,529.3 L434.5,529.3 L434.5,528.7 L437.5,528.7 L437.5,528.2 L440.5,528.2 L440.5,527.7 L443.5,527.7 L443.5,527.2 L446.5,527.2 L446.5,526.5 L449.5,526.5 L449.5,525.7 L452.5,525.7 L452.5,524.8 L455.5,524.8 L455.5,523.9 L458.5,523.9 L458.5,523.0 L461.5,523.0 L461.5,522.1 L464.5,522.1 L464.5,521.4 L467.5,521.4 L467.5,521.0 L470.5,521.0 L470.5,520.5 L473.5,520.5 L473.5,520.0 L476.5,520.0 L476.5,519.6 L479.5,519.6 L479.5,519.1 L482.5,519.1 L482.5,518.7 L485.5,518.7 L485.5,518.3 L488.5,518.3 L488.5,517.8 L491.5,517.8 L491.5,517.4 L494.5,517.4 L494.5,516.9 L497.5,516.9 L497.5,516.4 L500.5,516.4 L500.5,515.8 L503.5,515.8 L503.5,515.2 L506.5,515.2 L506.5,514.7 L509.5,514.7 L509.5,514.1 L512.5,514.1 L512.5,513.4 L515.5,513.4 L515.5,512.8 L518.5,512.8 L518.5,512.2 L521.5,512.2 L521.5,511.6 L524.5,511.6 L524.5,511.0 L527.5,511.0 L527.5,511.0 L530.5,511.0 L530.5,511.0 L533.5,511.0 L533.5,511.0 L536.5,511.0 L536.5,511.0 L539.5,511.0 L539.5,511.0 L542.5,511.0 L542.5,511.0 L545.5,511.0 L545.5,511.0 L548.5,511.0 L548.5,511.0 L551.5,511.0 L551.5,511.0 L554.5,511.0 L554.5,511.0 L557.5,511.0 L557.5,511.0 L560.5,511.0 L560.5,511.0 L563.5,511.0 L563.5,511.0 L566.5,511.0 L566.5,511.0 L569.5,511.0 L569.5,511.0 L572.5,511.0 L572.5,511.0 L575.5,511.0 L575.5,511.0 L578.5,511.0 L578.5,511.0 L581.5,511.0 L581.5,511.0 L584.5,511.0 L584.5,511.0 L587.5,511.0 L587.5,511.0 L590.5,511.0 L590.5,511.0 L593.5,511.0 L593.5,511.0 L596.5,511.0 L596.5,511.0 L599.5,511.0 L599.5,511.0 L602.5,511.0 L602.5,511.0 L605.5,511.0 L605.5,511.0 L608.5,511.0 L608.5,511.0 L611.5,511.0 L611.5,511.0 L614.5,511.0 L614.5,511.0 L617.5,511.0 L617.5,511.0 L620.5,511.0 L620.5,511.0 L623.5,511.0 L623.5,511.0 L626.5,511.0 L626.5,511.0 L629.5,511.0 L629.5,511.0 L632.5,511.0 L632.5,511.0 L635.5,511.0 L635.5,511.0 L638.5,511.0 L638.5,511.0 L641.5,511.0 L641.5,511.0 L644.5,511.0 L644.5,511.0 L647.5,511.0 L647.5,511.0 L650.5,511.0 L650.5,511.0 L653.5,511.0 L653.5,511.0 L656.5,511.0 L656.5,511.0 L659.5,511.0 L659.5,511.0 L662.5,511.0 L662.5,511.0 L665.5,511.0 L665.5,511.0 L668.5,511.0 L668.5,511.0 L671.5,511.0 L671.5,511.0 L674.5,511.0 L674.5,511.0 L677.5,511.0 L677.5,511.0 L680.5,511.0 L680.5,511.0 L683.5,511.0 L683.5,511.0 L686.5,511.0 L686.5,511.0 L689.5,511.0 L689.5,511.0 L692.5,511.0 L692.5,511.0 L695.5,511.0 L695.5,511.0 L698.5,511.0 L698.5,511.0 L701.5,511.0 L701.5,511.0 L704.5,511.0 L704.5,511.0 L707.5,511.0 L707.5,511.0 L710.5,511.0 L710.5,511.0 L713.5,511.0 L713.5,511.0 L716.5,511.0 L716.5,511.0 L719.5,511.0 L719.5,511.0 L722.5,511.0 L722.5,511.0 L725.5,511.0 L725.5,511.0 L728.5,511.0 L728.5,511.0 L731.5,511.0 L731.5,511.0 L734.5,511.0 L734.5,511.0 L737.5,511.0 L737.5,511.0 L740.5,511.0 L740.5,511.0 L743.5,511.0 L743.5,511.0 L746.5,511.0 L746.5,511.0 L749.5,511.0 L749.5,511.0 L752.5,511.0 L752.5,511.0 L755.5,511.0 L755.5,511.0 L758.5,511.0 L758.5,511.0 L761.5,511.0 L761.5,511.0 L764.5,511.0 L764.5,511.0 L767.5,511.0 L767.5,511.0 L770.5,511.0 L770.5,509.9 L773.5,509.9 L773.5,508.3 L776.5,508.3 L776.5,506.9 L779.5,506.9 L779.5,505.7 L782.5,505.7 L782.5,504.4 L785.5,504.4 L785.5,503.2 L788.5,503.2 L788.5,502.0 L791.5,502.0 L791.5,500.8 L794.5,500.8 L794.5,499.6 L797.5,499.6 L797.5,498.4 L800.5,498.4 L800.5,497.2 L803.5,497.2 L803.5,496.0 L806.5,496.0 L806.5,494.8 L809.5,494.8 L809.5,493.6 L812.5,493.6 L812.5,492.4 L815.5,492.4 L815.5,491.2 L818.5,491.2 L818.5,490.1 L821.5,490.1 L821.5,489.2 L824.5,489.2 L824.5,488.3 L827.5,488.3 L827.5,487.4 L830.5,487.4 L830.5,486.6 L833.5,486.6 L833.5,485.8 L836.5,485.8 L836.5,485.1 L839.5,485.1 L839.5,484.3 L842.5,484.3 L842.5,483.3 L845.5,483.3 L845.5,482.1 L848.5,482.1 L848.5,480.9 L851.5,480.9 L851.5,479.7 L854.5,479.7 L854.5,478.5 L857.5,478.5 L857.5,477.3 L860.5,477.3 L860.5,476.1 L863.5,476.1 L863.5,474.9 L866.5,474.9 L866.5,473.9 L869.5,473.9 L869.5,473.0 L872.5,473.0 L872.5,472.1 L875.5,472.1 L875.5,471.2 L878.5,471.2 L878.5,470.0 L881.5,470.0 L881.5,468.6 L884.5,468.6 L884.5,467.2 L887.5,467.2 L887.5,465.9 L890.5,465.9 L890.5,464.3 L893.5,464.3 L893.5,462.7 L896.5,462.7 L896.5,461.1 L899.5,461.1 L899.5,459.7 L902.5,459.7 L902.5,458.7 L905.5,458.7 L905.5,457.7 L908.5,457.7 L908.5,456.6 L911.5,456.6 L911.5,455.6 L914.5,455.6 L914.5,454.6 L917.5,454.6 L917.5,453.6 L920.5,453.6 L920.5,452.5 L923.5,452.5 L923.5,451.4 L926.5,451.4 L926.5,450.3 L929.5,450.3 L929.5,449.1 L932.5,449.1 L932.5,448.0 L935.5,448.0 L935.5,446.9 L938.5,446.9 L938.5,445.7 L941.5,445.7 L941.5,444.6 L944.5,444.6 L944.5,443.3 L947.5,443.3 L947.5,441.8 L950.5,441.8 L950.5,440.3 L953.5,440.3 L953.5,438.8 L956.5,438.8 L956.5,437.3 L959.5,437.3 L959.5,436.0 L962.5,436.0 L962.5,434.6 L965.5,434.6 L965.5,433.3 L968.5,433.3 L968.5,431.6 L971.5,431.6 L971.5,429.6 L974.5,429.6 L974.5,427.7 L977.5,427.7 L977.5,425.7 L980.5,425.7 L980.5,423.0 L983.5,423.0 L983.5,420.0 L986.5,420.0 L986.5,417.7 L989.5,417.7 L989.5,415.6 L992.5,415.6 L992.5,413.5 L995.5,413.5 L995.5,411.4 L998.5,411.4 L998.5,409.4 L1001.5,409.4 L1001.5,407.3 L1004.5,407.3 L1004.5,405.2 L1007.5,405.2 L1007.5,403.1 L1010.5,403.1 L1010.5,403.0 L1013.5,403.0 L1013.5,403.0 L1016.5,403.0 L1016.5,403.0 L1019.5,403.0 L1019.5,403.0 L1022.5,403.0 L1022.5,403.0 L1025.5,403.0 L1025.5,403.0 L1028.5,403.0 L1028.5,403.0 L1031.5,403.0 L1031.5,403.0 L1034.5,403.0 L1034.5,403.0 L1037.5,403.0 L1037.5,403.0 L1040.5,403.0 L1040.5,403.0 L1043.5,403.0 L1043.5,403.0 L1046.5,403.0 L1046.5,403.0 L1049.5,403.0 L1049.5,403.0 L1052.5,403.0 L1052.5,385.0 L1055.5,385.0 L1055.5,385.0 L1058.5,385.0 L1058.5,385.0 L1061.5,385.0 L1061.5,385.0 L1064.5,385.0 L1064.5,385.0 L1067.5,385.0 L1067.5,385.0 L1070.5,385.0 L1070.5,385.0 L1073.5,385.0 L1073.5,385.0 L1076.5,385.0 L1076.5,385.0 L1079.5,385.0 L1079.5,385.0 L1082.5,385.0 L1082.5,385.0 L1085.5,385.0 L1085.5,385.0 L1088.5,385.0 L1088.5,385.0 L1091.5,385.0 L1091.5,385.0 L1093.5,385.0 L1093.5,385.0 L1093.5,599.3 Z" fill="#2fa1dd"/>
<rect x="133" y="593.4" width="40" height="5.9" fill="#0b84e0"/>
</svg>
<div id="hline"></div>
<div class="hdr" id="idx">1,878</div>
<div class="hdr" id="chg">24.5</div>
<div class="hdr" id="tri"></div>
<div class="hdr" id="pct">1.32%</div>
<div id="ytitle">GTGD (Tỷ)</div>
<div class="yl" style="top:349.2px;right:1076.8px">20,337.71</div><div class="yl" style="top:397.4px;right:1076px">16,270.17</div><div class="yl" style="top:445.6px;right:1076px">12,202.63</div><div class="yl" style="top:493.8px;right:1076px">8,135.08</div><div class="yl" style="top:542.0px;right:1076px">4,067.54</div><div class="yl" style="top:590.2px;right:1076px">0.00</div>
<div class="xl" style="left:133.2px">09:00</div><div class="xl" style="left:533.3px">11:30</div><div class="xl" style="left:773.5px">13:00</div><div class="xl" style="left:1094.3px">15:00</div>
<div id="tag"><b>1853</b><span>.29</span></div>
</div>
</body>
</html>
